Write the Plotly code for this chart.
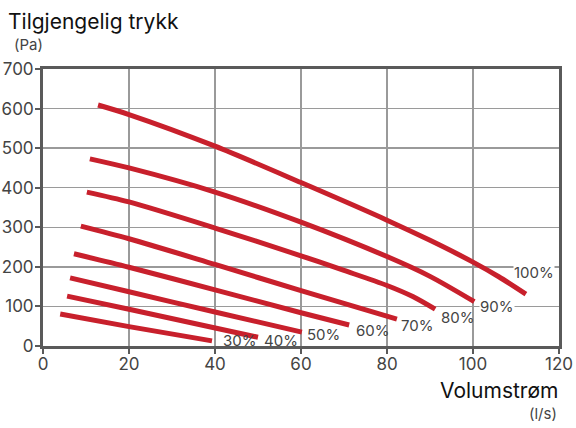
import plotly.graph_objects as go

# Curves: available pressure (Pa) vs air flow (l/s) at fan speeds
speeds = ["30%", "40%", "50%", "60%", "70%", "80%", "90%", "100%"]

x_30 = [4.0, 20, 39.3]
y_30 = [81, 49, 13]
x_40 = [5.6, 20, 50]
y_40 = [126, 93, 22]
x_50 = [6.3, 20, 40, 60.2]
y_50 = [172, 137, 86, 35]
x_60 = [7.2, 20, 40, 60, 71.2]
y_60 = [233, 199, 142, 84, 53]
x_70 = [8.8, 20, 40, 60, 82.3]
y_70 = [303, 271, 206, 140, 68]
x_80 = [10.2, 20, 40, 60, 70, 80, 86, 91.2]
y_80 = [389, 364, 298, 228, 191, 153, 125, 93]
x_90 = [10.9, 20, 40, 60, 80, 90, 100.3]
y_90 = [473, 450, 389, 313, 226, 176, 112]
x_100 = [12.8, 20, 40, 60, 80, 90, 100, 106, 112.3]
y_100 = [609, 585, 505, 413, 318, 267, 212, 175, 131]

# label anchor positions (left edge, vertical centre) in data units
label_x = [41.6, 51.2, 61.2, 72.6, 83.0, 92.3, 101.4, 109.3]
label_y = [15, 15, 30, 40, 53, 71, 99, 185]
label_bg = [False, False, False, False, False, False, True, True]

x_ticks = [0, 20, 40, 60, 80, 100, 120]
y_ticks = [0, 100, 200, 300, 400, 500, 600, 700]

xs = [x_30, x_40, x_50, x_60, x_70, x_80, x_90, x_100]
ys = [y_30, y_40, y_50, y_60, y_70, y_80, y_90, y_100]

RED = "#c8202c"
FONT = "Inter"
GREY = "#444444"

fig = go.Figure()
for name, xv, yv in zip(speeds, xs, ys):
    fig.add_trace(go.Scatter(x=xv, y=yv, mode="lines", name=name,
                             line=dict(color=RED, width=5, shape="spline", smoothing=0.8),
                             hoverinfo="skip", showlegend=False))

for name, lx, ly, bg in zip(speeds, label_x, label_y, label_bg):
    fig.add_annotation(x=lx, y=ly, text=name, showarrow=False, xanchor="left", yanchor="middle",
                       font=dict(family=FONT, size=15, color=GREY),
                       bgcolor="white" if bg else "rgba(0,0,0,0)", borderpad=0)

fig.add_annotation(xref="paper", yref="paper", x=-0.0717, y=1.17, text="Tilgjengelig trykk",
                   showarrow=False, xanchor="left", yanchor="middle",
                   font=dict(family=FONT, size=21, color="#111111"))
fig.add_annotation(xref="paper", yref="paper", x=-0.0601, y=1.09, text="(Pa)",
                   showarrow=False, xanchor="left", yanchor="middle",
                   font=dict(family=FONT, size=15, color=GREY))
fig.add_annotation(xref="paper", yref="paper", x=1.002, y=-0.159, text="Volumstrøm",
                   showarrow=False, xanchor="right", yanchor="middle",
                   font=dict(family=FONT, size=21, color="#111111"))
fig.add_annotation(xref="paper", yref="paper", x=1.0, y=-0.242, text="(l/s)",
                   showarrow=False, xanchor="right", yanchor="middle",
                   font=dict(family=FONT, size=15, color=GREY))

axis_common = dict(showline=True, linecolor="#5a5a5a", linewidth=3, mirror=True,
                   showgrid=True, gridcolor="#9a9a9a", gridwidth=1.5,
                   ticks="outside", ticklen=5, tickcolor="#5a5a5a", tickwidth=2,
                   tickfont=dict(family=FONT, size=17, color=GREY), zeroline=False,
                   automargin=False)

fig.update_xaxes(range=[0, 120], tickvals=x_ticks, ticklabelstandoff=-4, **axis_common)
fig.update_yaxes(range=[0, 700], tickvals=y_ticks, ticklabelstandoff=-2, **axis_common)

fig.update_layout(width=576, height=428, margin=dict(l=43, r=17, t=69, b=82),
                  plot_bgcolor="white", paper_bgcolor="white",
                  font=dict(family=FONT))

fig.write_html("out.html", config={"displayModeBar": False, "staticPlot": True})

# remove the browser's default page margin so the figure sits at the window origin
with open("out.html", "r", encoding="utf-8") as f:
    html = f.read()
html = html.replace("<head>", "<head><style>html,body{margin:0;padding:0;overflow:hidden;}</style>", 1)
with open("out.html", "w", encoding="utf-8") as f:
    f.write(html)
